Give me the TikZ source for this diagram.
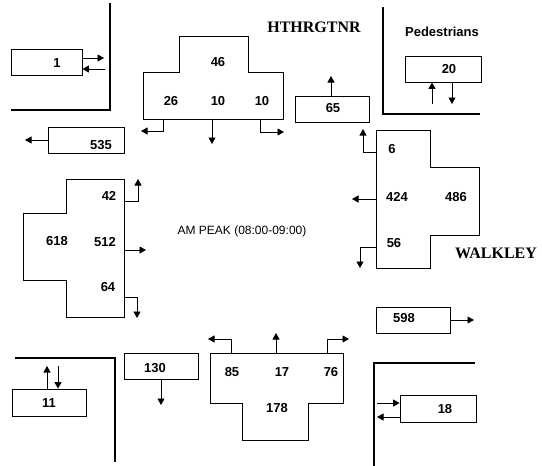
\documentclass[tikz,border=0pt]{standalone}
\usepackage{fontspec}
\setmainfont{Liberation Sans}
\newfontfamily\serifbf{Liberation Serif}
\usetikzlibrary{arrows.meta}
\begin{document}
\begin{tikzpicture}[x=1pt,y=-1pt,
  line width=0.9pt,
  arr/.style={-{Triangle[length=6.5pt,width=7pt]}},
  curb/.style={line width=2.4pt},
  vbox/.style={draw,rectangle,inner sep=0pt,minimum width=#1},
  num/.style={font=\fontsize{13}{13}\selectfont\bfseries,inner sep=0pt},
  street/.style={font=\serifbf\fontsize{16}{16}\selectfont\bfseries,inner sep=0pt}]
\useasboundingbox (0,0) rectangle (542,466);
% curbs
\draw[curb] (110,3) -- (110,110) -- (11,110);
\draw[curb] (383,7) -- (383,114) -- (480,114);
\draw[curb] (15,358) -- (115,358) -- (115,462);
\draw[curb] (374,466) -- (374,363) -- (475,363);
% street names and titles
\node[street] (hth) at (314,27) {HTHRGTNR};
\node[street] (wal) at (496,253) {WALKLEY};
\node[font=\fontsize{13}{13}\selectfont\bfseries,inner sep=0pt] (ped) at (442,32) {Pedestrians};
\node[font=\fontsize{12}{12}\selectfont,inner sep=0pt] (am) at (242,231) {AM PEAK (08:00-09:00)};
% boxes
\node[vbox=71pt,minimum height=26pt] (b1) at (46.5,62) {};
\node[vbox=76pt,minimum height=26pt] (b535) at (86,140) {};
\node[vbox=74pt,minimum height=26pt] (b65) at (332,109) {};
\node[vbox=76pt,minimum height=26pt] (b20) at (443,69) {};
\node[vbox=74pt,minimum height=26pt] (b598) at (413,320) {};
\node[vbox=76pt,minimum height=27pt] (b18) at (438,408.5) {};
\node[vbox=74pt,minimum height=27pt] (b11) at (49,402.5) {};
\node[vbox=74pt,minimum height=26pt] (b130) at (161,366) {};
\node[num] (t1) at (57,63) {1};
\node[num] (t535) at (101,145) {535};
\node[num] (t65) at (333,108) {65};
\node[num] (t20) at (449,69) {20};
\node[num] (t598) at (404,318) {598};
\node[num] (t18) at (445,409) {18};
\node[num] (t11) at (49,403) {11};
\node[num] (t130) at (155,368) {130};
% box arrows
\coordinate (e1) at (104,58);
\coordinate (s1) at (105,69);
\draw[arr] (b1.east |- e1) -- (e1);
\draw[arr] (s1) -- (b1.east |- s1);
\coordinate (e535) at (25,140);
\draw[arr] (b535.west) -- (e535);
\coordinate (e65) at (331,76);
\draw[arr] (b65.north -| e65) -- (e65);
\coordinate (s20) at (432,104);
\coordinate (e20) at (452,104);
\draw[arr] (s20) -- (b20.south -| s20);
\draw[arr] (b20.south -| e20) -- (e20);
\coordinate (e598) at (474,320);
\draw[arr] (b598.east) -- (e598);
\coordinate (s18) at (377,403);
\coordinate (e18) at (377,417);
\draw[arr] (s18) -- (b18.west |- s18);
\draw[arr] (b18.west |- e18) -- (e18);
\coordinate (e11) at (47,366);
\coordinate (s11) at (58,366);
\draw[arr] (b11.north -| e11) -- (e11);
\draw[arr] (s11) -- (b11.north -| s11);
\coordinate (e130) at (161,405);
\draw[arr] (b130.south) -- (e130);
% top T (HTHRGTNR approach)
\draw (179,36) -- (248,36) -- (248,72) -- (283,72) -- (283,119) -- (143,119) -- (143,72) -- (179,72) -- cycle;
\node[num] (n46) at (218,62) {46};
\node[num] (n26) at (171,101) {26};
\node[num] (n10a) at (218,101) {10};
\node[num] (n10b) at (262,101) {10};
\coordinate (a26) at (141,131);
\coordinate (a10) at (212,144);
\coordinate (a10b) at (284,132);
\draw[arr] (163,119) |- (a26);
\draw[arr] (212,119) -- (a10);
\draw[arr] (260,119) |- (a10b);
% left shape
\draw (66,179) -- (124,179) -- (124,317) -- (66,317) -- (66,280) -- (23,280) -- (23,213) -- (66,213) -- cycle;
\node[num] (n42) at (109,196) {42};
\node[num] (n618) at (57,241) {618};
\node[num] (n512) at (105,242) {512};
\node[num] (n64) at (108,287) {64};
\coordinate (a42) at (138,179);
\coordinate (a512) at (146,250);
\coordinate (a64) at (137,318);
\draw[arr] (124,201) -| (a42);
\draw[arr] (124,250) -- (a512);
\draw[arr] (124,297) -| (a64);
% right shape
\draw (376,130) -- (430,130) -- (430,167) -- (479,167) -- (479,235) -- (430,235) -- (430,268) -- (376,268) -- cycle;
\node[num] (n6) at (392,149) {6};
\node[num] (n424) at (397,197) {424};
\node[num] (n486) at (456,197) {486};
\node[num] (n56) at (394,243) {56};
\coordinate (a6) at (363,129);
\coordinate (a424) at (352,199);
\coordinate (a56) at (360,268);
\draw[arr] (376,152) -| (a6);
\draw[arr] (376,199) -- (a424);
\draw[arr] (376,247) -| (a56);
% bottom T
\draw (210,353) -- (343,353) -- (343,403) -- (308,403) -- (308,440) -- (242,440) -- (242,403) -- (210,403) -- cycle;
\node[num] (n85) at (232,372) {85};
\node[num] (n17) at (282,372) {17};
\node[num] (n76) at (331,372) {76};
\node[num] (n178) at (277,408) {178};
\coordinate (a85) at (208,339);
\coordinate (a17) at (276,333);
\coordinate (a76) at (349,339);
\draw[arr] (231,353) |- (a85);
\draw[arr] (276,353) -- (a17);
\draw[arr] (327,353) |- (a76);
\end{tikzpicture}
\end{document}
